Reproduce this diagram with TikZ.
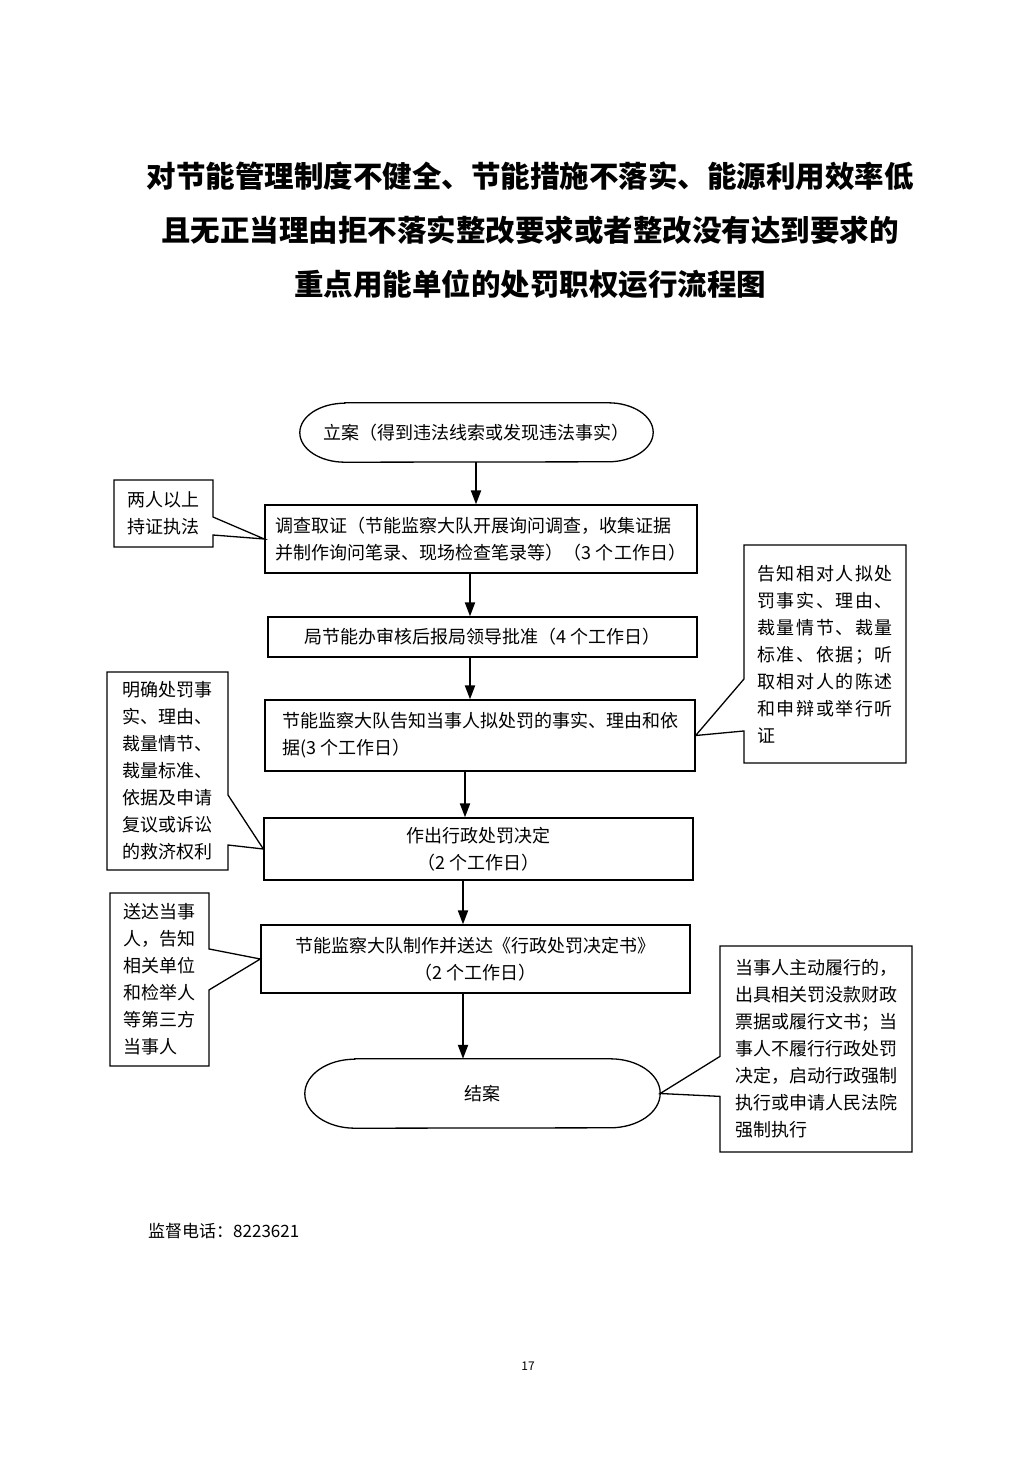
\documentclass[tikz,border=0pt]{standalone}
\usepackage{fontspec}
\setmainfont{Noto Sans CJK SC}
\usetikzlibrary{arrows.meta,shapes.callouts}

\newcommand{\bodyfont}{\fontsize{18}{27}\selectfont}
\newcommand{\titlefont}{\fontsize{29.5}{54}\selectfont\bfseries}
% oval outline round a terminal node: name, end x radius, end y radius
\newcommand{\ovalframe}[3]{%
  \draw[line width=1.3pt] ([xshift=#2]#1.north west) -- ([xshift=-#2]#1.north east)
    arc[start angle=90, end angle=-90, x radius=#2, y radius=#3]
    -- ([xshift=#2]#1.south west)
    arc[start angle=270, end angle=90, x radius=#2, y radius=#3] -- cycle;}

\tikzset{
  box/.style={draw, line width=1.3pt, inner sep=0pt, font=\bodyfont},
  terminal/.style={inner sep=0pt, font=\bodyfont},
  note/.style={draw, line width=1.3pt, rectangle callout, inner sep=0pt, align=left, font=\bodyfont},
  flow/.style={line width=2pt, -{Triangle[length=14pt,width=10pt]}}
}

\begin{document}
\begin{tikzpicture}[x=1pt,y=-1pt]
  \useasboundingbox (0,0) rectangle (1033,1461);

  % title
  \node[font=\titlefont, align=center] (title) at (530,230)
    {对节能管理制度不健全、节能措施不落实、能源利用效率低\\且无正当理由拒不落实整改要求或者整改没有达到要求的\\重点用能单位的处罚职权运行流程图};

  % main steps
  \node[terminal, minimum width=353pt, minimum height=59pt] (start) at (476.5,432.5)
    {立案（得到违法线索或发现违法事实）};
  \ovalframe{start}{45pt}{29.5pt}
  \node[box, align=left, minimum width=432pt, minimum height=68pt] (collect) at (481,539)
    {调查取证（节能监察大队开展询问调查，收集证据\\并制作询问笔录、现场检查笔录等）（3 个工作日）};
  \node[box, minimum width=429pt, minimum height=40pt] (approve) at (482.5,637)
    {局节能办审核后报局领导批准（4 个工作日）};
  \node[box, align=left, minimum width=430pt, minimum height=71pt] (notify) at (480,735.5)
    {节能监察大队告知当事人拟处罚的事实、理由和依\\据(3 个工作日）};
  \node[box, align=center, minimum width=429pt, minimum height=62pt] (decide) at (478.5,849)
    {作出行政处罚决定\\（2 个工作日）};
  \node[box, align=center, minimum width=429pt, minimum height=68pt] (deliver) at (475.5,959)
    {节能监察大队制作并送达《行政处罚决定书》\\（2 个工作日）};
  \node[terminal, minimum width=355pt, minimum height=69pt] (finish) at (482.5,1093.5)
    {结案};
  \ovalframe{finish}{50pt}{34.5pt}

  % arrows
  \draw[flow] (start.south -| 476,0) -- (collect.north -| 476,0);
  \draw[flow] (collect.south -| 470,0) -- (approve.north -| 470,0);
  \draw[flow] (approve.south -| 470,0) -- (notify.north -| 470,0);
  \draw[flow] (notify.south -| 465,0) -- (decide.north -| 465,0);
  \draw[flow] (decide.south -| 463,0) -- (deliver.north -| 463,0);
  \draw[flow] (deliver.south -| 463,0) -- (finish.north -| 463,0);

  % side notes
  \node[note, minimum width=99pt, minimum height=67pt, callout pointer width=18pt,
        callout absolute pointer={(collect.west)}] (twoPersons) at (163.5,513.5)
    {两人以上\\持证执法};
  \node[note, minimum width=162pt, minimum height=218pt, callout pointer width=52pt,
        callout absolute pointer={(notify.east)}] (hearing) at (825,654)
    {\addfontfeature{LetterSpace=9}告知相对人拟处\\\addfontfeature{LetterSpace=9}罚事实、理由、\\\addfontfeature{LetterSpace=9}裁量情节、裁量\\\addfontfeature{LetterSpace=9}标准、依据；听\\\addfontfeature{LetterSpace=9}取相对人的陈述\\\addfontfeature{LetterSpace=9}和申辩或举行听\\\addfontfeature{LetterSpace=9}证};
  \node[note, minimum width=121pt, minimum height=198pt, callout pointer width=50pt,
        callout absolute pointer={(decide.west)}] (rights) at (167.5,771)
    {明确处罚事\\实、理由、\\裁量情节、\\裁量标准、\\依据及申请\\复议或诉讼\\的救济权利};
  \node[note, minimum width=99pt, minimum height=173pt, callout pointer width=41pt,
        callout absolute pointer={(deliver.west)}] (informParties) at (159.5,979.5)
    {送达当事\\人，告知\\相关单位\\和检举人\\等第三方\\当事人};
  \node[note, minimum width=192pt, minimum height=206pt, callout pointer width=40pt,
        callout absolute pointer={(finish.east)}] (closing) at (816,1049)
    {当事人主动履行的，\\出具相关罚没款财政\\票据或履行文书；当\\事人不履行行政处罚\\决定，启动行政强制\\执行或申请人民法院\\强制执行};

  % footer
  \node[anchor=west, font=\fontsize{17}{20}\selectfont, inner sep=0pt] (phone) at (148,1231)
    {监督电话：8223621};
  \node[font=\fontsize{12}{14}\selectfont, inner sep=0pt] (page) at (528,1366) {17};
\end{tikzpicture}
\end{document}
